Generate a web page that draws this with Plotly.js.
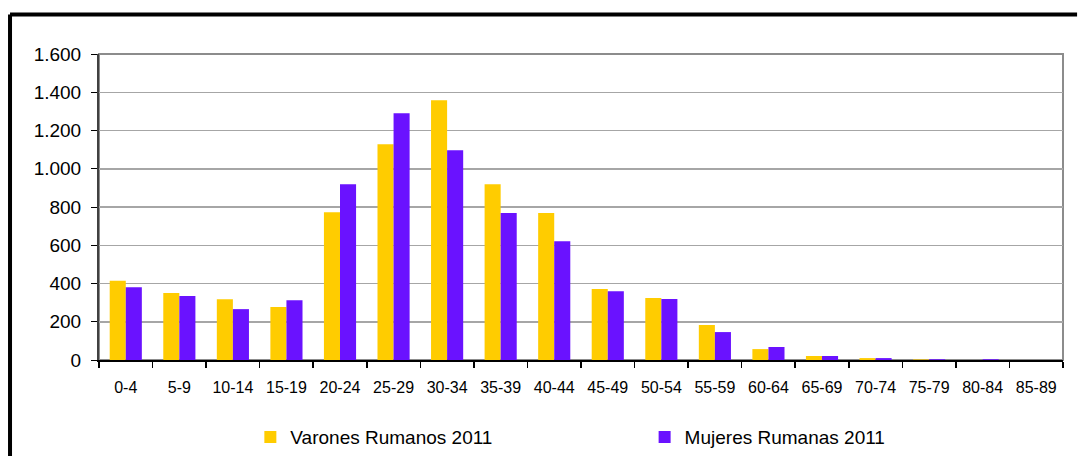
<!DOCTYPE html>
<html>
<head>
<meta charset="utf-8">
<script src="https://cdn.plot.ly/plotly-3.0.1.min.js"></script>
<style>
html,body{margin:0;padding:0;background:#fff;overflow:hidden;}
#chart{width:1078px;height:456px;}
</style>
</head>
<body>
<div id="chart"></div>
<script>
const categories = ["0-4","5-9","10-14","15-19","20-24","25-29","30-34","35-39","40-44","45-49","50-54","55-59","60-64","65-69","70-74","75-79","80-84","85-89"];
const varones = [414, 350, 318, 277, 773, 1128, 1358, 919, 768, 371, 324, 183, 57, 21, 10, 3, 0, 0];
const mujeres = [381, 334, 266, 313, 919, 1290, 1097, 768, 621, 360, 319, 146, 68, 21, 10, 4, 4, 0];
const seriesNames = ["Varones Rumanos 2011", "Mujeres Rumanas 2011"];
const colors = ["#FFCC00", "#6A12FF"];

const font = "'Liberation Sans', Arial, sans-serif";

const traces = [
  {type:"bar", x:categories, y:varones, name:seriesNames[0], marker:{color:colors[0]}, legend:"legend"},
  {type:"bar", x:categories, y:mujeres, name:seriesNames[1], marker:{color:colors[1]}, legend:"legend2"}
];

const legendStyle = {orientation:"h", xanchor:"left", yanchor:"middle", y:-0.252,
                     font:{size:19, family:font}, bgcolor:"rgba(0,0,0,0)", borderwidth:0};

const layout = {
  width:1078, height:456,
  margin:{l:99, r:15, t:54, b:96, autoexpand:false},
  paper_bgcolor:"#fff", plot_bgcolor:"#fff",
  separators:",.",
  font:{family:font, color:"#000", size:16},
  barmode:"group", bargap:0.40, bargroupgap:0,
  showlegend:true,
  legend:Object.assign({}, legendStyle, {x:0.157}),
  legend2:Object.assign({}, legendStyle, {x:0.566}),
  xaxis:{type:"category", showgrid:false, showline:true, linecolor:"#000", linewidth:2,
         ticks:"outside", tickson:"boundaries", ticklen:6, tickcolor:"#000", tickwidth:1.5,
         tickfont:{size:16, family:font}, ticklabelstandoff:12, zeroline:false, fixedrange:true},
  yaxis:{range:[0,1600], dtick:200, tickformat:",d", showgrid:true, gridcolor:"#a6a6a6", gridwidth:1.5,
         showline:true, linecolor:"#404040", linewidth:2, ticks:"outside", ticklen:6,
         tickcolor:"#000", tickfont:{size:19, family:font}, ticklabelstandoff:6,
         zeroline:false, fixedrange:true},
  shapes:[
    {type:"rect", xref:"paper", yref:"paper", x0:0, x1:1, y0:0, y1:1,
     line:{color:"#8c8c8c", width:2}, layer:"below"},
    {type:"line", xref:"paper", yref:"paper", x0:-0.0923, x1:1.0146, y0:1.129, y1:1.129,
     line:{color:"#000", width:4}, layer:"above"},
    {type:"line", xref:"paper", yref:"paper", x0:-0.0923, x1:-0.0923, y0:1.129, y1:-0.35,
     line:{color:"#000", width:4}, layer:"above"}
  ]
};

Plotly.newPlot("chart", traces, layout, {displayModeBar:false, staticPlot:true});
</script>
</body>
</html>
